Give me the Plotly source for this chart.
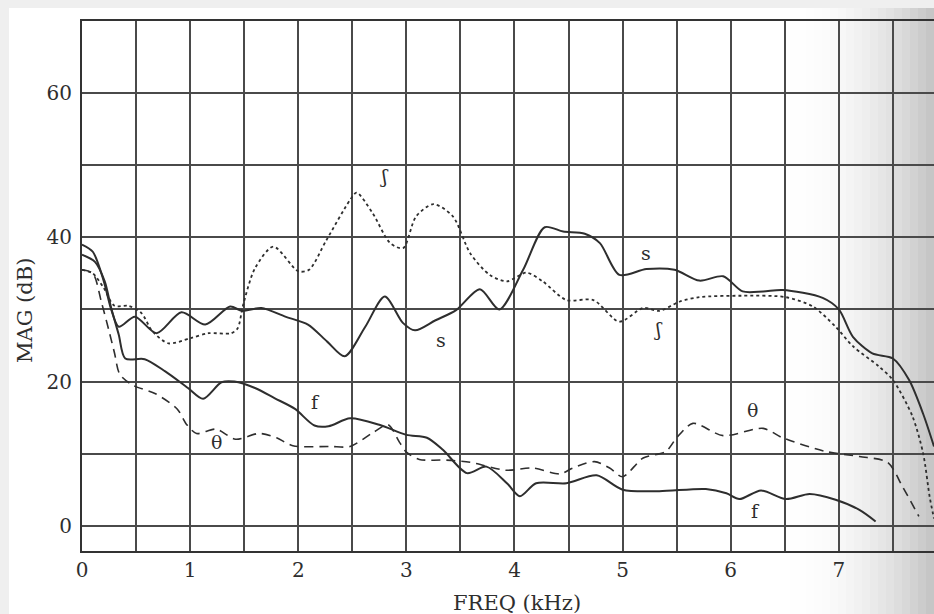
import plotly.graph_objects as go

# ---- data ----
s_x = [0, 0.1, 0.2, 0.27, 0.34, 0.49, 0.69, 0.92, 1.14, 1.37, 1.48, 1.66, 1.88, 2.09, 2.27, 2.43,
       2.62, 2.8, 2.97, 3.08, 3.27, 3.46, 3.68, 3.86, 4.08, 4.28, 4.45, 4.65, 4.79, 4.97, 5.22,
       5.48, 5.71, 5.93, 6.11, 6.3, 6.48, 6.85, 7.0, 7.13, 7.31, 7.5, 7.65, 7.78, 7.88]
s_y = [39, 38, 34, 30, 27.6, 29, 26.7, 29.6, 27.9, 30.4, 29.8, 30.2, 29.0, 27.9, 25.5, 23.5,
       27.6, 31.8, 28.1, 27.1, 28.5, 29.9, 32.8, 30.0, 35.5, 41.4, 40.8, 40.5, 39.2, 34.8, 35.6,
       35.5, 34.0, 34.6, 32.5, 32.5, 32.7, 31.6, 30.0, 26.2, 23.9, 23.2, 20.2, 15.5, 11]

sh_x = [0, 0.1, 0.2, 0.3, 0.43, 0.55, 0.65, 0.8, 1.0, 1.17, 1.38, 1.44, 1.49, 1.6, 1.77, 2.0,
        2.1, 2.26, 2.48, 2.54, 2.69, 2.85, 2.97, 3.09, 3.25, 3.43, 3.59, 3.77, 3.93, 4.11, 4.26,
        4.48, 4.73, 4.97, 5.19, 5.34, 5.53, 5.71, 6.1, 6.51, 6.76, 6.97, 7.13, 7.37, 7.5, 7.68,
        7.78, 7.84, 7.88]
sh_y = [35.5, 35, 33, 30.5, 30.5, 29.5, 27, 25.3, 26, 26.7, 26.7, 27.4, 30.6, 35.7, 38.7, 35.3,
        35.5, 39.6, 45.2, 46.2, 43.3, 39.2, 38.5, 42.9, 44.6, 42.9, 37.8, 34.8, 33.9, 35.1, 33.9,
        31.3, 31.3, 28.3, 30.2, 29.8, 31.1, 31.7, 31.9, 31.7, 30.4, 27.6, 24.9, 22.1, 20.2, 15.2,
        10, 4, 1]

f_x = [0, 0.12, 0.21, 0.27, 0.34, 0.40, 0.58, 0.77, 0.98, 1.12, 1.29, 1.41, 1.6, 1.78, 1.97,
       2.15, 2.28, 2.48, 2.75, 3.0, 3.19, 3.34, 3.56, 3.74, 3.93, 4.05, 4.2, 4.48, 4.76, 5.0,
       5.34, 5.77, 5.96, 6.08, 6.28, 6.51, 6.73, 6.97, 7.19, 7.34]
f_y = [37.6, 36.6, 33.9, 30.2, 26.5, 23.2, 23.1, 21.4, 19.1, 17.6, 19.9, 20.0, 19.1, 17.7, 16.2,
       13.9, 13.8, 14.9, 14.0, 12.6, 12.2, 10.5, 7.3, 8.2, 5.9, 4.1, 5.9, 5.9, 7.0, 5.0,
       4.8, 5.1, 4.5, 3.7, 4.9, 3.7, 4.4, 3.6, 2.2, 0.6]

th_x = [0, 0.1, 0.18, 0.25, 0.3, 0.35, 0.47, 0.68, 0.88, 0.97, 1.06, 1.24, 1.42, 1.64, 1.8,
        1.95, 2.3, 2.48, 2.7, 2.83, 2.94, 3.0, 3.12, 3.37, 3.59, 3.92, 4.17, 4.42, 4.54, 4.74,
        4.88, 5.0, 5.19, 5.4, 5.5, 5.65, 5.93, 6.3, 6.48, 6.88, 7.19, 7.45, 7.59, 7.74]
th_y = [35.5, 35, 31, 27, 24, 21, 19.5, 18.3, 16.2, 14, 12.8, 13.4, 12, 12.8, 12.2,
        11.1, 11, 11, 13, 14, 11.5, 10.2, 9.2, 9.1, 8.8, 7.7, 8, 7.2, 8, 8.9,
        8, 6.8, 9.4, 10.3, 12.2, 14.2, 12.5, 13.5, 12.2, 10.3, 9.6, 8.8, 5.4, 1.3]

x_ticks = [0, 0.5, 1, 1.5, 2, 2.5, 3, 3.5, 4, 4.5, 5, 5.5, 6, 6.5, 7, 7.5]
x_tick_text = ["0", "", "1", "", "2", "", "3", "", "4", "", "5", "", "6", "", "7", ""]
y_ticks = [0, 10, 20, 30, 40, 50, 60, 70]
y_tick_text = ["0", "", "20", "", "40", "", "60", ""]

label_text = ["\u0283", "s", "s", "\u0283", "f", "f", "\u03b8", "\u03b8"]
label_x = [2.8, 5.22, 3.32, 5.33, 2.16, 6.23, 1.24, 6.2]
label_y = [48.5, 37.8, 25.8, 27.3, 17.2, 2.1, 11.6, 16.1]

INK = "#2e2e2e"
FONT = "DejaVu Serif"

fig = go.Figure()
fig.add_trace(go.Scatter(x=s_x, y=s_y, mode="lines", name="s",
                         line=dict(color=INK, width=2, shape="spline", smoothing=0.8)))
fig.add_trace(go.Scatter(x=sh_x, y=sh_y, mode="lines", name="\u0283",
                         line=dict(color=INK, width=1.8, dash="3px,3px", shape="spline", smoothing=0.8)))
fig.add_trace(go.Scatter(x=f_x, y=f_y, mode="lines", name="f",
                         line=dict(color=INK, width=2, shape="spline", smoothing=0.8)))
fig.add_trace(go.Scatter(x=th_x, y=th_y, mode="lines", name="\u03b8",
                         line=dict(color=INK, width=1.6, dash="9px,6px", shape="spline", smoothing=0.8)))

for t, lx, ly in zip(label_text, label_x, label_y):
    fig.add_annotation(x=lx, y=ly, text=t, showarrow=False,
                       font=dict(family=FONT, size=19, color=INK))

# page background: light grey margin strip + white page + shaded right edge (book curvature)
W, H = 934, 614
L, R, T, B = 82, 0, 21, 63
pw, ph = W - L - R, H - T - B

def px_x(p):
    return (p - L) / pw

def px_y(p):
    return 1 - (p - T) / ph

shapes = [dict(type="rect", xref="paper", yref="paper", x0=px_x(9), x1=px_x(W + 5),
               y0=px_y(H + 5), y1=px_y(8), fillcolor="white", line=dict(width=0), layer="below")]
n = 18
for i in range(n):
    a = 790 + (W - 790) * i / n
    b = 790 + (W - 790) * (i + 1) / n
    t = (i + 0.5) / n
    g = int(255 - 60 * t ** 2.0)
    shapes.append(dict(type="rect", xref="paper", yref="paper", x0=px_x(a), x1=px_x(b + 0.5),
                       y0=px_y(H + 5), y1=px_y(8), fillcolor=f"rgb({g},{g},{g})",
                       line=dict(width=0), layer="below"))
fig.update_layout(shapes=shapes)

fig.add_annotation(xref="paper", yref="paper", x=px_x(25), y=px_y(311), text="MAG (dB)",
                   xanchor="center", yanchor="middle",
                   textangle=-90, showarrow=False, font=dict(family=FONT, size=21, color=INK))
fig.add_annotation(xref="paper", yref="paper", x=px_x(517), y=px_y(603), text="FREQ (kHz)",
                   xanchor="center", yanchor="middle",
                   showarrow=False, font=dict(family=FONT, size=21, color=INK))

fig.update_layout(
    width=W, height=H,
    margin=dict(l=L, r=R, t=T, b=B),
    paper_bgcolor="#efefef",
    plot_bgcolor="rgba(0,0,0,0)",
    showlegend=False,
    font=dict(family=FONT, size=20, color=INK),
    xaxis=dict(range=[0, 7.88], tickvals=x_ticks, ticktext=x_tick_text,
               showgrid=True, gridcolor="#4a4a4a", gridwidth=1.6, zeroline=False,
               showline=True, linecolor="#333", linewidth=2, mirror=True,
               ticks="", ticklabelstandoff=0),
    yaxis=dict(range=[-3.5, 70], tickvals=y_ticks, ticktext=y_tick_text,
               showgrid=True, gridcolor="#4a4a4a", gridwidth=1.6, zeroline=False,
               showline=True, linecolor="#333", linewidth=2, mirror=False,
               ticks="", ticklabelstandoff=4),
)

fig.write_html("out.html", config={"displayModeBar": False},
               post_script="document.body.style.margin='0';document.body.style.overflow='hidden';")
